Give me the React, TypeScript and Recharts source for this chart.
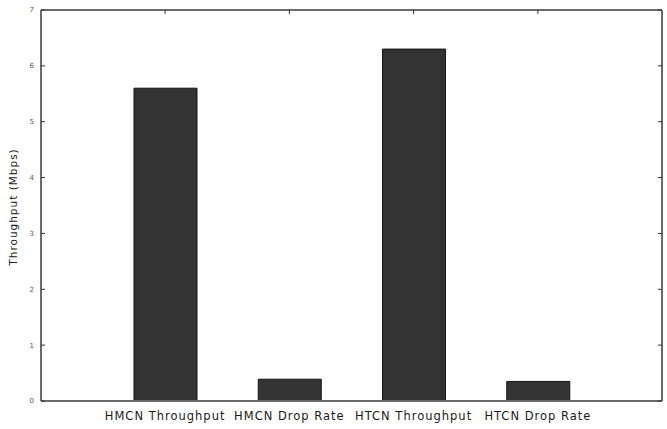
import { BarChart, Bar, XAxis, YAxis } from 'recharts';

const CATEGORIES = ['HMCN Throughput', 'HMCN Drop Rate', 'HTCN Throughput', 'HTCN Drop Rate'];
const VALUES = [5.6, 0.39, 6.3, 0.35];
const Y_TICKS = [0, 1, 2, 3, 4, 5, 6, 7];

const data = CATEGORIES.map((name, i) => ({ name, value: VALUES[i] }));

const FONT = '"DejaVu Sans", sans-serif';
const FRAME = '#6b6b6b';
const TICK = '#333';

function YLabel() {
  return (
    <text
      x={13}
      y={207}
      transform="rotate(-90, 13, 207)"
      textAnchor="middle"
      dominantBaseline="central"
      fontFamily={FONT}
      fontSize={10.5}
      letterSpacing={1}
      fill="#1a1a1a"
    >
      Throughput (Mbps)
    </text>
  );
}

export default function App() {
  return (
    <div style={{ position: 'absolute', left: 0, top: 0, background: '#fff' }}>
      <BarChart width={667} height={429} data={data} margin={{ top: 0, right: 0, left: 0, bottom: 0 }}>
        <XAxis
          dataKey="name"
          height={28}
          padding={{ left: 62, right: 62 }}
          axisLine={{ stroke: FRAME, strokeWidth: 2 }}
          tickLine={false}
          tickSize={0}
          tickMargin={11}
          interval={0}
          tick={{ fill: '#1a1a1a', fontSize: 11.5, fontFamily: FONT, letterSpacing: 1 }}
        />
        {/* top edge of the frame, ticks pointing in */}
        <XAxis
          xAxisId="top"
          dataKey="name"
          orientation="top"
          height={10}
          padding={{ left: 62, right: 62 }}
          axisLine={{ stroke: FRAME, strokeWidth: 2 }}
          tickLine={{ stroke: TICK }}
          tickSize={-4}
          interval={0}
          tickFormatter={() => ''}
        />
        <YAxis
          width={41}
          domain={[0, 7]}
          ticks={Y_TICKS}
          interval={0}
          axisLine={{ stroke: FRAME, strokeWidth: 2 }}
          tickLine={{ stroke: TICK }}
          tickSize={-4}
          tickMargin={11}
          tick={{ fill: '#555', fontSize: 7, fontFamily: FONT }}
          label={{ content: () => <YLabel /> }}
        />
        {/* right edge of the frame */}
        <YAxis
          yAxisId="right"
          orientation="right"
          width={5}
          domain={[0, 7]}
          ticks={Y_TICKS}
          interval={0}
          axisLine={{ stroke: FRAME, strokeWidth: 2 }}
          tickLine={{ stroke: TICK }}
          tickSize={-4}
          tickFormatter={() => ''}
        />
        <Bar dataKey="value" fill="#333333" stroke="#141414" strokeWidth={1} barSize={63} isAnimationActive={false} />
        {/* invisible series so the frame axes get drawn */}
        <Bar xAxisId="top" yAxisId="right" dataKey="value" fill="none" stroke="none" isAnimationActive={false} />
      </BarChart>
    </div>
  );
}
